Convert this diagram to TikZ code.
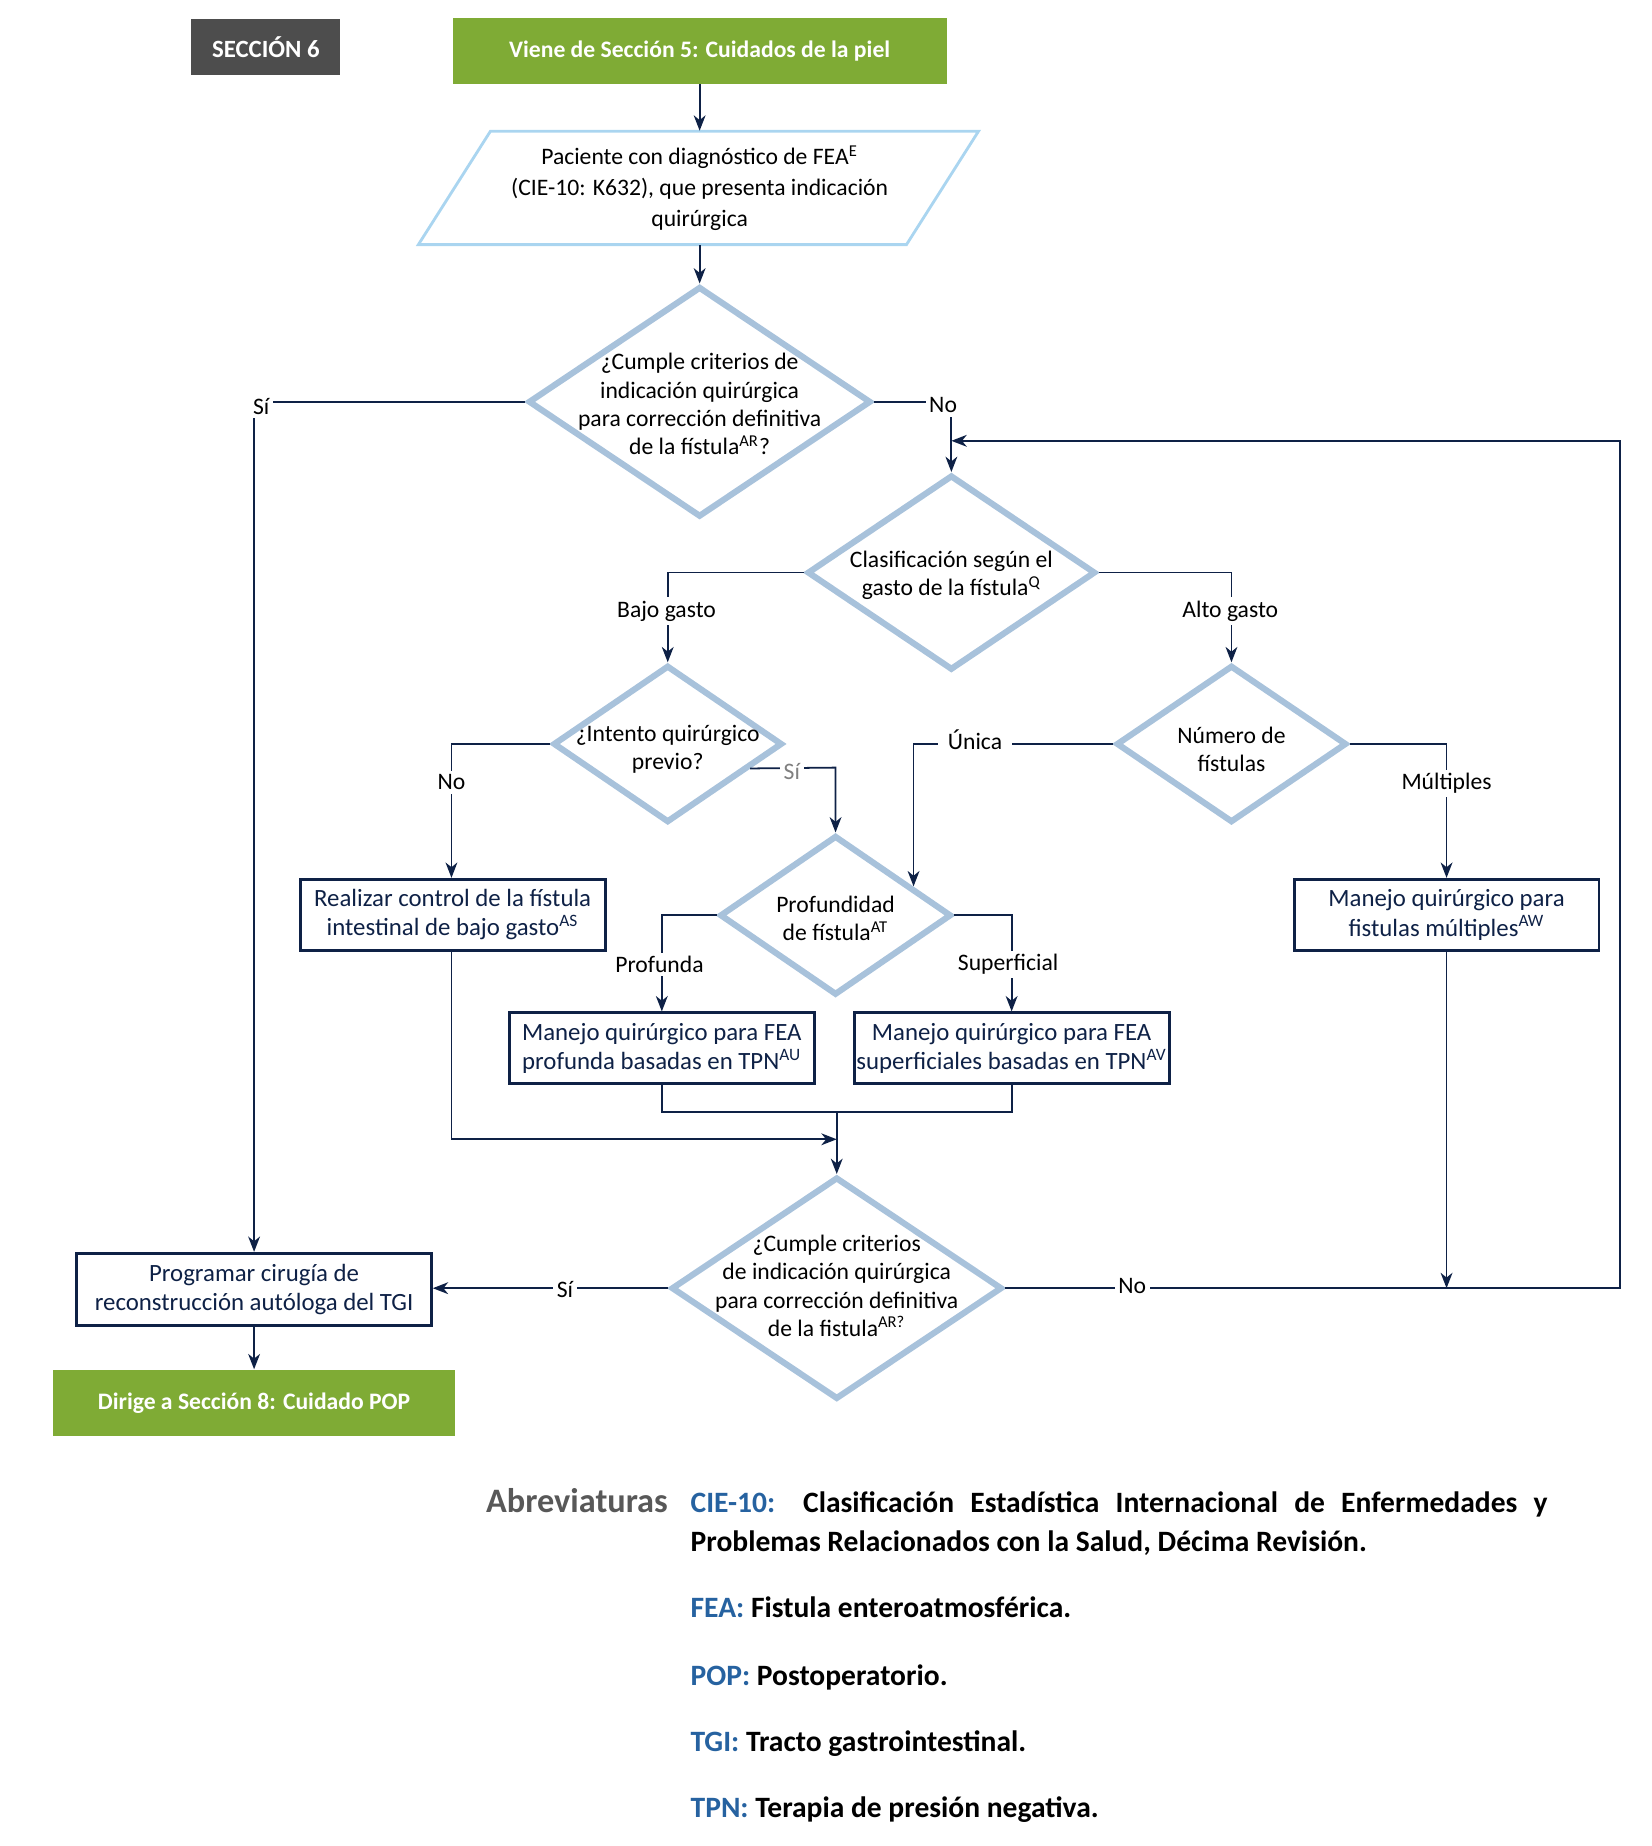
\documentclass[tikz,border=0pt]{standalone}
\usepackage{fontspec}
\setmainfont{Carlito}
\usetikzlibrary{shapes.geometric,arrows.meta,calc}

\definecolor{verde}{RGB}{127,171,53}
\definecolor{grisosc}{RGB}{77,77,77}
\definecolor{azulclaro}{RGB}{168,194,219}
\definecolor{celeste}{RGB}{170,213,240}
\definecolor{marino}{RGB}{14,33,70}
\definecolor{azulabr}{RGB}{38,98,160}
\definecolor{grisabr}{RGB}{88,88,88}

\tikzset{
  decision/.style={draw=azulclaro, line width=2.6pt, diamond, inner sep=0pt},
  dtext/.style={align=center, inner sep=0pt, font=\fontsize{10}{12}\selectfont},
  proc/.style={draw=marino, line width=1.2pt, rectangle, minimum width=129pt, minimum height=30pt, align=center, text=marino, inner sep=1pt, font=\fontsize{10.5}{12.5}\selectfont},
  term/.style={fill=verde, text=white, minimum height=28pt, font=\bfseries\fontsize{10}{12}\selectfont},
  flecha/.style={draw=marino, line width=0.75pt, -{Stealth[length=6.5pt,width=5pt,inset=2pt]}},
  linea/.style={draw=marino, line width=0.75pt},
  etiq/.style={fill=white, inner sep=1.5pt, font=\fontsize{10}{12}\selectfont},
  abbr/.style={inner sep=0pt, font=\bfseries\fontsize{12.5}{16.5}\selectfont},
}

\begin{document}
\begin{tikzpicture}[x=0.5pt,y=-0.5pt]
\useasboundingbox (0,0) rectangle (1397,1562);

% encabezado
\node at (225,40) [fill=grisosc, text=white, minimum width=63pt, minimum height=23.5pt, font=\bfseries\fontsize{10.5}{12}\selectfont] (sec) {SECCIÓN 6};
\node at (592,43) [term, minimum width=209pt] (vien) {Viene de Sección 5: Cuidados de la piel};

% paciente
\node at (592,159) [minimum height=48pt, inner sep=0pt, align=center, font=\fontsize{10}{13}\selectfont] (pac) {Paciente con diagnóstico de FEA\textsuperscript{E}\\(CIE-10: K632), que presenta indicación\\quirúrgica};
\draw[draw=celeste, line width=1.2pt] (354,207) -- (415,111) -- (828,111) -- (767,207) -- cycle;

% decisiones
\node at (592,340) [decision, minimum width=145pt, minimum height=97.5pt] (d1) {};
\node at (592,342) [dtext] (t1) {¿Cumple criterios de\\indicación quirúrgica\\para corrección definitiva\\de la fístula\textsuperscript{AR}?};
\node at (805,484.5) [decision, minimum width=122pt, minimum height=82.5pt] (d2) {};
\node at (805,487) [dtext] (t2) {Clasificación según el\\gasto de la fístula\textsuperscript{Q}};
\node at (565,629.5) [decision, minimum width=97pt, minimum height=66.5pt] (d3) {};
\node at (565,634) [dtext] (t3) {¿Intento quirúrgico\\previo?};
\node at (1042,629.5) [decision, minimum width=97.5pt, minimum height=66.5pt] (d4) {};
\node at (1042,634) [dtext] (t4) {Número de\\fístulas};
\node at (707,774.5) [decision, minimum width=98pt, minimum height=67.5pt] (d5) {};
\node at (707,777) [dtext] (t5) {Profundidad\\de fístula\textsuperscript{AT}};
\node at (708,1090) [decision, minimum width=140pt, minimum height=94pt] (d6) {};
\node at (708,1088) [dtext] (t6) {¿Cumple criterios\\de indicación quirúrgica\\para corrección definitiva\\de la fistula\textsuperscript{AR?}};

% procesos
\node at (383,774) [proc] (real) {Realizar control de la fístula\\intestinal de bajo gasto\textsuperscript{AS}};
\node at (560,887) [proc] (prof) {Manejo quirúrgico para FEA\\profunda basadas en TPN\textsuperscript{AU}};
\node at (856,887) [proc] (sup) {Manejo quirúrgico para FEA\\superficiales basadas en TPN\textsuperscript{AV}};
\node at (1224,774) [proc] (mul) {Manejo quirúrgico para\\fistulas múltiples\textsuperscript{AW}};
\node at (215,1091) [proc, minimum width=150pt, minimum height=30.5pt] (prog) {Programar cirugía de\\reconstrucción autóloga del TGI};
\node at (215,1187) [term, minimum width=170pt] (dir) {Dirige a Sección 8: Cuidado POP};

% conectores
\coordinate (unica) at (773,750);
\coordinate (jn) at (708,941);
\draw[flecha] (vien.south) -- (pac.north);
\draw[flecha] (pac.south) -- (d1.north);
\draw[flecha] (d1.west) -- (215,340) -- (prog.north);
\draw[flecha] (d1.east) -- (805,340) -- (d2.north);
\draw[flecha] (d2.west) -- (565,484.5) -- (d3.north);
\draw[flecha] (d2.east) -- (1042,484.5) -- (d4.north);
\draw[flecha] (d3.west) -- (382,629.5) -- (real.north -| 382,0);
\draw[flecha] ($(d3.east)!0.3!(d3.south)$) -- (707,649.5) -- (d5.north);
\draw[flecha] (d4.west) -- (773,629.5) -- (unica);
\draw[flecha] (d4.east) -- (1224,629.5) -- (mul.north);
\draw[flecha] (d5.west) -- (560,774.5) -- (prof.north);
\draw[flecha] (d5.east) -- (856,774.5) -- (sup.north);
\draw[linea] (prof.south) -- (560,941) -- (856,941) -- (sup.south);
\draw[flecha] (jn) -- (d6.north);
\draw[flecha] (382,804) -- (382,964) -- (jn |- 0,964);
\draw[flecha] (d6.west) -- (d6.west -| prog.east);
\draw[flecha] (d6.east) -- (1371,1090) -- (1371,373) -- (805,373);
\draw[flecha] (mul.south) -- (1224,1090);
\draw[flecha] (prog.south) -- (dir.north);

% etiquetas
\node at (221,344) [etiq] (lsi1) {Sí};
\node at (798,343) [etiq] (lno1) {No};
\node at (564,517) [etiq] (lbajo) {Bajo gasto};
\node at (1041,517) [etiq] (lalto) {Alto gasto};
\node at (382,662) [etiq] (lno2) {No};
\node at (670,653) [etiq, text=gray] (lsi2) {Sí};
\node at (825,626) [etiq, inner xsep=4pt] (luni) {Única};
\node at (1224,663) [etiq] (lmul) {Múltiples};
\node at (558,816) [etiq] (lprof) {Profunda};
\node at (853,816) [etiq] (lsup) {Superficial};
\node at (478,1091) [etiq] (lsi3) {Sí};
\node at (958,1088) [etiq] (lno3) {No};

% abreviaturas
\node at (411,1280) [anchor=base west, inner sep=0pt, text=grisabr, font=\bfseries\fontsize{14.5}{16}\selectfont] (abr) {Abreviaturas};
\node at (584,1262) [abbr, anchor=north west, text width=362.5pt, align=justify] (acie) {\textcolor{azulabr}{CIE-10:} Clasificación Estadística Internacional de Enfermedades y\linebreak Problemas Relacionados con la Salud, Décima Revisión.};
\node at (584,1369) [abbr, anchor=base west] (afea) {\textcolor{azulabr}{FEA:} Fistula enteroatmosférica.};
\node at (584,1426) [abbr, anchor=base west] (apop) {\textcolor{azulabr}{POP:} Postoperatorio.};
\node at (584,1482) [abbr, anchor=base west] (atgi) {\textcolor{azulabr}{TGI:} Tracto gastrointestinal.};
\node at (584,1538) [abbr, anchor=base west] (atpn) {\textcolor{azulabr}{TPN:} Terapia de presión negativa.};
\end{tikzpicture}
\end{document}
